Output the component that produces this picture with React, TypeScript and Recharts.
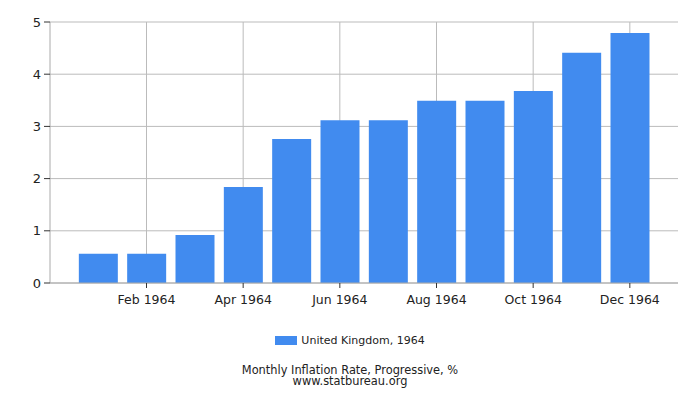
import { BarChart, Bar, XAxis, YAxis, CartesianGrid } from 'recharts'

document.body.style.margin = '0'

const months = [
  'Jan 1964', 'Feb 1964', 'Mar 1964', 'Apr 1964', 'May 1964', 'Jun 1964',
  'Jul 1964', 'Aug 1964', 'Sep 1964', 'Oct 1964', 'Nov 1964', 'Dec 1964',
]
const ukValues = [0.56, 0.56, 0.92, 1.84, 2.76, 3.12, 3.12, 3.49, 3.49, 3.68, 4.41, 4.79]
const tickMonths = ['Feb 1964', 'Apr 1964', 'Jun 1964', 'Aug 1964', 'Oct 1964', 'Dec 1964']
const yTicks = [0, 1, 2, 3, 4, 5]

const BLUE = '#418bef'
const FONT = '"DejaVu Sans", sans-serif'

const data = months.map((m, i) => ({ month: m, uk: ukValues[i] }))

function MonthTick(props: any) {
  const { x, y, payload } = props
  if (!tickMonths.includes(payload.value)) return null
  return (
    <g>
      <line x1={x} y1={y} x2={x} y2={y + 5} stroke="#333" />
      <text x={x} y={y + 21} textAnchor="middle" fontSize={12.5} fontFamily={FONT} fill="#222">
        {payload.value}
      </text>
    </g>
  )
}

export default function App() {
  return (
    <div style={{ position: 'relative', width: 700, height: 400, background: '#fff', fontFamily: FONT }}>
      <BarChart
        width={700}
        height={400}
        data={data}
        margin={{ top: 22, right: 22, left: 0, bottom: 87 }}
        barCategoryGap="10%"
      >
        <CartesianGrid stroke="#bbb" verticalValues={tickMonths} />
        <XAxis
          dataKey="month"
          interval={0}
          tick={<MonthTick />}
          tickLine={false}
          tickSize={0}
          tickMargin={0}
          height={30}
          padding={{ left: 24, right: 24 }}
          stroke="#aaa"
        />
        <YAxis
          domain={[0, 5]}
          ticks={yTicks}
          width={50}
          tickSize={6}
          tickMargin={3}
          stroke="#aaa"
          tickLine={{ stroke: '#333' }}
          tick={{ fontSize: 13, fontFamily: FONT, fill: '#222' }}
        />
        <YAxis yAxisId="right" orientation="right" width={0} tick={false} tickLine={false} stroke="#bbb" />
        <Bar dataKey="uk" name="United Kingdom, 1964" fill={BLUE} isAnimationActive={false} />
      </BarChart>
      <div
        style={{
          position: 'absolute', top: 334, left: 0, width: 700, display: 'flex', justifyContent: 'center',
          alignItems: 'center', fontSize: 11, lineHeight: '13px', color: '#222',
        }}
      >
        <span style={{ display: 'inline-block', width: 22, height: 9, background: BLUE, marginRight: 4 }} />
        <span>United Kingdom, 1964</span>
      </div>
      <div style={{ position: 'absolute', top: 365, left: 0, width: 700, textAlign: 'center', fontSize: 11.4, lineHeight: '11px', color: '#222' }}>
        <div>Monthly Inflation Rate, Progressive, %</div>
        <div>www.statbureau.org</div>
      </div>
    </div>
  )
}
